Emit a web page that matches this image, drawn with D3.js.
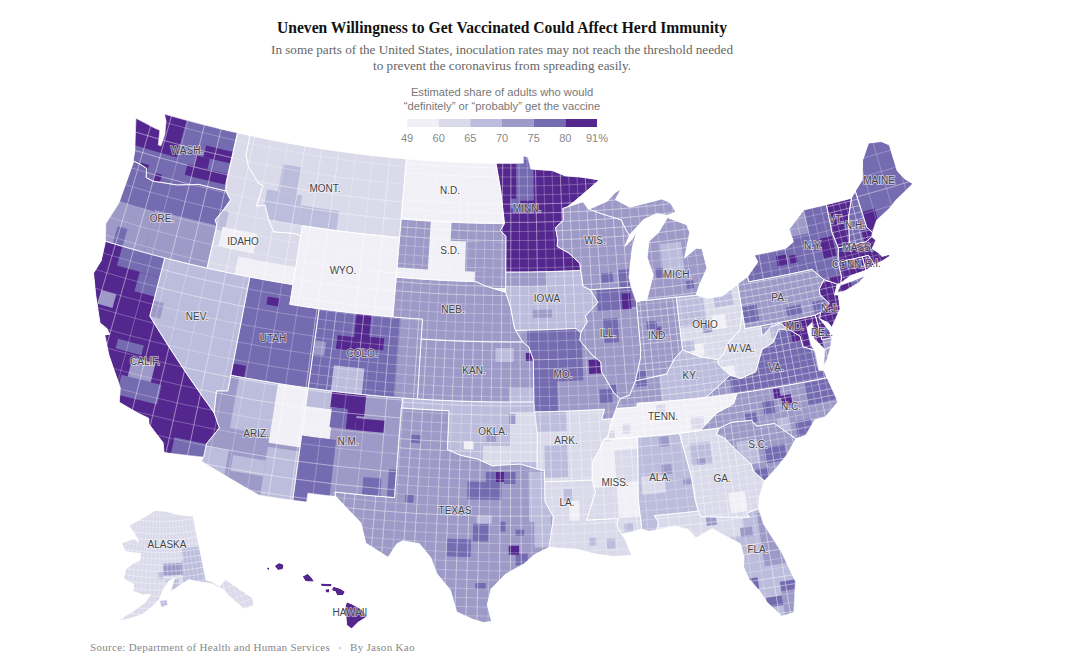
<!DOCTYPE html>
<html><head><meta charset="utf-8"><script src="https://cdn.jsdelivr.net/npm/d3@7"></script>
<style>
body{margin:0;background:#fff}
svg{display:block}
.serif{font-family:"Liberation Serif",serif}
.sans{font-family:"Liberation Sans",sans-serif}
.state-label{font-family:"Liberation Sans",sans-serif;font-size:10px;fill:#444;stroke:#fff;stroke-opacity:.6;stroke-width:1.6px;paint-order:stroke;text-anchor:middle}
</style></head><body><div id="chart"></div>
<script>
// legend
const legendTicks = [49, 60, 65, 70, 75, 80, 91]
const thresholds = [60, 65, 70, 75, 80]
const purples = ['#f2f0f7', '#dadaeb', '#bcbddc', '#9e9ac8', '#756bb1', '#54278f']

// shared borders, lon/lat
const wiMn = [[-92.01,46.71],[-92.29,46.66],[-92.29,46.07],[-92.87,45.7],[-92.75,45.1],[-92.8,44.75],[-92,44.4],[-91.25,43.85],[-91.22,43.5]]
const iaWi = [[-91.22,43.5],[-91.1,42.7],[-90.64,42.51]]
const iaIl = [[-90.64,42.51],[-90.15,41.85],[-91.05,41.2],[-90.95,40.9],[-91.42,40.38]]
const moIl = [[-91.42,40.38],[-91.5,40],[-90.75,39.25],[-90.2,38.85],[-90.2,38.4],[-89.5,37.3],[-89.13,36.98]]
const ohioE = [[-80.52,40.64],[-80.85,39.7],[-81.7,39.2],[-82.2,38.6],[-82.6,38.4]]
const ohioM = [[-82.6,38.4],[-83.7,38.65],[-84.8,39.1]]
const ohioW = [[-84.8,39.1],[-85.4,38.7],[-86,38],[-87,37.9],[-88.05,37.8]]
const ohioL = [[-88.05,37.8],[-88.5,37.1],[-89.13,36.98]]
const columbia = [[-116.92,45.99],[-118.98,46],[-119.3,45.93],[-120.5,45.7],[-121.2,45.65],[-122.2,45.57],[-122.75,45.65],[-122.9,46.1],[-123.4,46.2],[-124,46.27]]
const snake = [[-116.92,45.99],[-116.46,45.6],[-116.85,44.95],[-117.22,44.45],[-117.03,44.23],[-117.03,42]]
const idMt = [[-116.05,49],[-116.05,48],[-115.7,47.45],[-114.7,46.7],[-114.35,46.65],[-114.55,45.55],[-113.95,45.7],[-113.45,44.95],[-113,44.45],[-111.5,44.55],[-111.05,44.47]]
const redRiver = [[-100,34.56],[-99.2,34.3],[-98.1,34.13],[-97.2,33.8],[-96.6,33.85],[-95.5,33.9],[-94.48,33.64]]
const moRiver = [[-96.45,42.49],[-96.1,41.7],[-95.85,40.7],[-95.31,40],[-94.9,39.75],[-94.61,39.1]]
const sabine = [[-94.04,33],[-94.04,32],[-93.55,31.2],[-93.7,30.5],[-93.85,29.7]]
const msLower = [[-91.15,33],[-91,32.4],[-91.6,31],[-89.73,31],[-89.85,30.65],[-89.6,30.18]]
const msUpper = [[-89.4,36.5],[-89.7,36],[-90.07,35.1],[-90.3,35],[-90.6,34.5],[-91.1,33.9],[-91.15,33]]
const tnSouth = [[-90.3,35],[-88.2,35],[-85.6,34.98],[-84.32,35]]
const tnNc = [[-84.32,35],[-83.1,35.77],[-82,36.1],[-81.68,36.59]]
const gaSc = [[-83.1,35],[-83.35,34.7],[-82.9,34.5],[-82,33.5],[-81.5,33],[-81.4,32.6],[-80.85,32.05]]
const ncSc = [[-83.1,35],[-82.3,35.2],[-81.05,35.15],[-80.8,34.82],[-79.67,34.8],[-78.55,33.86]]
const wvVa = [[-77.72,39.32],[-78.35,39.39],[-78.85,38.8],[-79.65,38.55],[-80.3,37.5],[-81.3,37.3],[-81.95,37.53]]
const paEast = [[-75.35,42],[-74.7,41.36],[-75.13,40.98],[-75.2,40.7],[-74.72,40.15],[-75.42,39.8]]
const back = a => a.slice().reverse()

const stateIds = ['WA','OR','CA','NV','ID','MT','WY','UT','AZ','CO','NM','ND','SD','NE','KS','OK','TX','MN','IA','MO','AR','LA','WI','IL','IN','OH','MI','KY','WV','VA','NC','TN','SC','GA','FL','AL','MS','PA','NY','NJ','DE','MD','CT','RI','MA','VT','NH','ME','AK','HI']
const stateValues = [77,77,85,67,62,62,55,77,72,77,72,55,55,72,72,67,72,85,67,72,62,62,72,72,72,62,72,67,62,77,72,55,72,62,67,67,62,72,77,85,85,85,85,85,85,85,77,77,62,85]
const stateRings = [
  [[[-122.76,49],[-117.03,49],[-117.04,46.42],...columbia.slice(),[-124.1,46.8],[-124.73,48.38],[-123.1,48.17],[-122.75,48.14],[-122.55,47.4],[-122.35,47.4],[-122.3,48],[-122.5,48.7]]],
  [[...back(columbia),...snake.slice(1),[-124.21,42],[-124.55,42.84],[-124.1,44],[-123.95,46.2]]],
  [[[-124.21,42],[-120,42],[-120,39],[-114.63,35],[-114.13,34.3],[-114.72,33.4],[-114.72,32.72],[-117.12,32.53],[-117.3,33],[-118.4,33.75],[-118.5,34.03],[-119.2,34.15],[-120.5,34.45],[-120.65,35.15],[-121.9,36.6],[-122.5,37.5],[-122.2,37.6],[-122.5,37.85],[-123,38],[-123.8,39.3],[-124.35,40.3],[-124.1,41]]],
  [[[-120,42],[-114.04,42],[-114.05,36.2],[-114.75,36.1],[-114.63,35],[-120,39]]],
  [[[-117.03,49],...idMt,[-111.05,42],[-114.04,42],[-117.03,42],...back(snake),[-117.04,46.42]]],
  [[[-116.05,49],[-104.05,49],[-104.05,45],[-111.05,45],...back(idMt).slice(0)]],
  [[[-111.05,45],[-104.05,45],[-104.05,41],[-111.05,41]]],
  [[[-114.04,42],[-111.05,42],[-111.05,41],[-109.05,41],[-109.05,37],[-114.05,37]]],
  [[[-114.05,37],[-109.05,37],[-109.05,31.33],[-111.07,31.33],[-114.81,32.5],[-114.72,32.72],[-114.72,33.4],[-114.13,34.3],[-114.63,35],[-114.75,36.1],[-114.05,36.2]]],
  [[[-109.05,41],[-102.05,41],[-102.05,37],[-109.05,37]]],
  [[[-109.05,37],[-103,37],[-103.04,32],[-106.62,32],[-106.53,31.78],[-108.21,31.78],[-108.21,31.33],[-109.05,31.33]]],
  [[[-104.05,49],[-97.23,49],[-96.85,47.6],[-96.56,45.94],[-104.05,45.94]]],
  [[[-104.05,45.94],[-96.56,45.94],[-96.85,45.6],[-96.45,45.3],[-96.45,43.5],[-96.45,42.49],[-97.9,42.8],[-98.5,43],[-104.05,43]]],
  [[[-104.05,43],[-98.5,43],[-97.9,42.8],...moRiver.slice(0,4),[-102.05,40],[-102.05,41],[-104.05,41]]],
  [[[-102.05,40],...moRiver.slice(3),[-94.62,37],[-102.05,37]]],
  [[[-103,37],[-94.62,37],[-94.43,35.4],...back(redRiver),[-100,36.5],[-103,36.5]]],
  [[[-103.04,36.5],[-100,36.5],...redRiver,[-94.04,33.55],...sabine,[-94.7,29.35],[-95.3,28.9],[-96.4,28.35],[-97.2,27.6],[-97.4,26.8],[-97.15,25.96],[-97.6,25.9],[-98.2,26.06],[-99.1,26.4],[-99.5,27.5],[-100.3,28.3],[-100.7,29.1],[-101.4,29.77],[-102.35,29.87],[-102.7,29.7],[-103.15,28.98],[-104.5,29.6],[-104.9,30.6],[-106.53,31.78],[-106.62,32],[-103.04,32]]],
  [[[-97.23,49],[-95.15,49],[-95.15,49.38],[-94.8,49.3],[-94.6,48.7],[-93,48.6],[-92,48.3],[-90.8,48.2],[-89.5,48],[-91.4,47],...wiMn,[-96.45,43.5],[-96.45,45.3],[-96.85,45.6],[-96.56,45.94],[-96.85,47.6]]],
  [[[-96.45,43.5],...iaWi,...iaIl.slice(1),[-91.73,40.61],[-95.77,40.58],[-95.85,40.7],[-96.1,41.7],[-96.45,42.49]]],
  [[[-95.77,40.58],[-91.73,40.61],...moIl,[-89.4,36.5],[-89.7,36],[-90.37,36],[-90.15,36.5],[-94.62,36.5],[-94.62,37],...back(moRiver).slice(0,3)]],
  [[[-94.62,36.5],[-90.15,36.5],[-90.37,36],...msUpper.slice(1),[-94.04,33],[-94.04,33.55],[-94.48,33.64],[-94.43,35.4]]],
  [[...sabine.slice().reverse().slice(-1),[-91.15,33],...msLower.slice(1),[-89.4,29.9],[-89.1,29.1],[-90.2,29.1],[-91.3,29.3],[-92.2,29.55],[-93.85,29.7],[-93.7,30.5],[-93.55,31.2],[-94.04,32]]],
  [[[-92.01,46.71],[-90.8,46.95],[-90.4,46.55],[-89,46.15],[-88.1,45.9],[-87.8,45.35],[-87.6,45.1],[-88,44.55],[-87.4,44.9],[-87.05,45.3],[-87.5,44.4],[-87.9,43],[-87.8,42.49],...back(iaWi),...back(wiMn).slice(1)]],
  [[[-90.64,42.51],[-87.8,42.49],[-87.53,41.7],[-87.53,39.35],[-87.6,38.9],...ohioL,...back(moIl).slice(1),...back(iaIl).slice(1)]],
  [[[-87.53,41.7],[-87.2,41.76],[-84.8,41.76],...ohioW,[-87.6,38.9],[-87.53,39.35]]],
  [[[-84.8,41.76],[-83.45,41.73],[-82.7,41.5],[-81.7,41.5],[-80.52,41.98],...ohioE,...ohioM.slice(1)]],
  [[[-86.82,41.76],[-84.8,41.76],[-83.45,41.73],[-83.1,42.25],[-82.45,43],[-82.6,44],[-83,44.07],[-83.9,43.65],[-83.3,44.9],[-83.45,45.3],[-84.75,45.78],[-85.5,45.1],[-86.25,44.7],[-86.5,43.9],[-86.2,43]],
   [[-90.4,46.55],[-89,46.9],[-88.4,47.3],[-87.9,47.47],[-88.4,46.95],[-87.4,46.5],[-85,46.75],[-84.4,46.5],[-84.1,46],[-84.75,45.9],[-85.5,46.05],[-86.5,45.8],[-87.6,45.1],[-87.8,45.35],[-88.1,45.9],[-89,46.15]]],
  [[...back(ohioL),...back(ohioW).slice(1),...back(ohioM).slice(1),[-82.6,38.15],[-81.95,37.53],[-83.68,36.6],[-88.07,36.68],[-88.07,36.5],[-89.4,36.5]]],
  [[...ohioE,[-82.6,38.15],...back(wvVa),[-78.2,39.68],[-78.8,39.6],[-79.48,39.2],[-79.48,39.72],[-80.52,39.72]]],
  [[[-83.68,36.6],[-81.68,36.59],[-75.9,36.55],[-76,36.95],[-76.3,37],[-76.3,37.6],[-76.3,38],[-77,38.3],[-77.05,38.85],...wvVa],
   [[-75.95,37.15],[-75.65,37.95],[-75.25,38.03],[-75.6,37.5]]],
  [[[-75.9,36.55],[-81.68,36.59],...back(tnNc).slice(1),[-83.1,35],...ncSc.slice(1),[-77.9,33.95],[-77.2,34.6],[-76.5,34.65],[-75.55,35.25]]],
  [[[-89.4,36.5],[-88.07,36.5],[-88.07,36.68],[-83.68,36.6],[-81.68,36.59],...back(tnNc).slice(1),...back(tnSouth).slice(1),...back(msUpper).slice(2,5)]],
  [[...ncSc,[-79.2,33.2],[-80,32.6],...back(gaSc)]],
  [[[-85.6,34.98],[-84.32,35],[-83.1,35],...gaSc.slice(1),[-81.3,31.3],[-81.45,30.72],[-82.2,30.57],[-82.05,30.36],[-84.86,30.7],[-85,31],[-85.1,31.6],[-85.18,32.85]]],
  [[[-85,31],[-87.6,31],[-87.4,30.65],[-87.52,30.28],[-86.5,30.4],[-85.7,30.15],[-85.3,29.68],[-84.3,30.05],[-83.6,29.6],[-82.8,29.1],[-82.7,28.4],[-82.8,27.9],[-82.6,27.3],[-82.1,26.6],[-81.8,26],[-81.1,25.15],[-80.4,25.25],[-80.03,26.8],[-80.55,28.4],[-81.3,29.9],[-81.45,30.72],[-82.2,30.57],[-82.05,30.36],[-84.86,30.7]]],
  [[[-88.2,35],[-85.6,34.98],[-85.18,32.85],[-85.1,31.6],[-85,31],[-87.6,31],[-87.4,30.65],[-87.52,30.28],[-88,30.23],[-88.4,30.37],[-88.47,31.9]]],
  [[[-90.3,35],[-88.2,35],[-88.47,31.9],[-88.4,30.37],[-89.6,30.18],...back(msLower).slice(1),[-91.1,33.9],[-90.6,34.5]]],
  [[[-80.52,41.98],[-79.76,42.27],[-79.76,42],...paEast,[-75.79,39.72],[-80.52,39.72]]],
  [[[-79.76,42.27],[-78.9,42.9],[-79.05,43.27],[-76.8,43.3],[-76.2,43.55],[-76.3,44.2],[-75,45],[-73.35,45],[-73.4,44],[-73.43,43.6],[-73.25,42.75],[-73.5,42.05],[-73.5,41.3],[-73.66,41],[-73.9,41],[-74.7,41.36],[-75.35,42],[-79.76,42]],
   [[-74,40.6],[-73.7,40.9],[-72.6,41],[-71.9,41.07],[-72.5,40.8],[-73.5,40.58]]],
  [[[-73.9,41],[-74.7,41.36],...paEast.slice(2),[-75.55,39.5],[-75.05,39.2],[-74.9,38.95],[-74.1,39.75],[-74,40.45],[-74.25,40.5]]],
  [[[-75.79,39.72],[-75.42,39.8],[-75.55,39.5],[-75.1,38.8],[-75.05,38.45],[-75.7,38.46]]],
  [[[-79.48,39.72],[-75.79,39.72],[-75.7,38.46],[-75.05,38.45],[-75.25,38.03],[-75.65,37.95],[-76.2,38.6],[-76.1,39.4],[-76.5,39.2],[-76.45,38.3],[-76.35,38.05],[-77,38.3],[-77.05,38.85],[-77.72,39.32],[-78.2,39.68],[-78.8,39.6],[-79.48,39.2]]],
  [[[-73.5,42.05],[-71.8,42.02],[-71.8,41.32],[-72.9,41.25],[-73.66,41],[-73.5,41.3]]],
  [[[-71.8,42.02],[-71.38,42.02],[-71.15,41.5],[-71.8,41.32]]],
  [[[-73.5,42.05],[-73.25,42.75],[-72.46,42.73],[-71.3,42.7],[-70.82,42.87],[-70.6,42.65],[-71,42.3],[-70.6,41.95],[-70.5,41.78],[-70,41.78],[-70.25,42.05],[-69.95,41.7],[-70.6,41.55],[-71.15,41.5],[-71.38,42.02],[-71.8,42.02]]],
  [[[-73.35,45],[-71.5,45],[-72.05,44.1],[-72.46,42.73],[-73.25,42.75],[-73.43,43.6],[-73.4,44]]],
  [[[-71.5,45],[-71.1,45.3],[-70.98,43.4],[-70.7,43.07],[-70.82,42.87],[-71.3,42.7],[-72.46,42.73],[-72.05,44.1]]],
  [[[-71.1,45.3],[-70.4,45.75],[-70,46.7],[-69.23,47.46],[-68.3,47.35],[-67.8,47.07],[-67.8,45.7],[-67.45,45.2],[-67,44.85],[-68.5,44.3],[-69.1,44],[-70.2,43.6],[-70.7,43.07],[-70.98,43.4]]],
  [[[-141,69.65],[-141,60.3],[-139.5,59.9],[-137.5,58.9],[-135.5,59.7],[-133.5,58.4],[-130,55.9],[-130.5,54.8],[-133,54.8],[-136,57.5],[-136.5,58.2],[-139.5,59.5],[-142,60],[-146,60.7],[-148.5,60],[-151.5,59.2],[-150,61.1],[-151.9,60.7],[-153.5,59.5],[-154.5,58.2],[-156.5,57],[-159,55.8],[-163,54.8],[-164.8,54.6],[-162,55.9],[-158.5,57.5],[-157,58.8],[-159,58.6],[-162,59],[-162,60],[-165.3,60.6],[-165,62],[-163,63],[-161,63.5],[-161,64.5],[-166.3,64.5],[-168,65.6],[-164,66.5],[-162,66.1],[-163.5,67],[-166.6,68.3],[-163,69.3],[-157,70.9],[-152,70.8],[-147,70.2]],
   [[-154.5,57.9],[-152.5,58],[-152.3,57.3],[-154,56.9]]],
  [[[-159.78,22.07],[-159.55,22.23],[-159.3,22.15],[-159.35,21.92],[-159.6,21.88]],
   [[-160.23,21.98],[-160.08,22],[-160.1,21.85]],
   [[-158.27,21.55],[-158,21.7],[-157.8,21.5],[-157.65,21.3],[-157.95,21.3],[-158.12,21.33]],
   [[-157.3,21.2],[-156.72,21.17],[-156.72,21.05],[-157.25,21.08]],
   [[-157.05,20.9],[-156.85,20.92],[-156.85,20.75],[-157.02,20.75]],
   [[-156.68,20.95],[-156.6,21.03],[-156.25,20.93],[-156,20.78],[-156.1,20.62],[-156.42,20.6],[-156.5,20.8],[-156.68,20.85]],
   [[-155.9,20.25],[-155.6,20.13],[-155.08,19.85],[-154.82,19.52],[-155.3,19.25],[-155.65,18.92],[-155.9,19.1],[-155.95,19.7],[-156.05,19.75]]]
]

// county sizes differ by region (degrees of lon, lat)
const westStates = ['WA','OR','CA','NV','ID','MT','WY','UT','AZ','NM','AK','ME']
const smallCountyStates = ['KY','TN','VA','NC','GA','WV','SC','OH','IN','PA','MD','NJ','CT','MA','NH','VT','RI','DE']
const countyStepWest = [1.3, 0.9]
const countyStepMid = [0.62, 0.46]
const countyStepSmall = [0.45, 0.33]

// county groups: state, share, west, south, east, north
const patches = [
  ['WA',85,-125,47.05,-121,49.2],['WA',77,-121,47.3,-118.5,49.2],['WA',85,-119.1,47.4,-117,48],['WA',85,-120.1,46.3,-117,46.85],['WA',85,-119.6,46.85,-118.6,47.4],['WA',85,-123.4,45.7,-122.8,46.3],['WA',85,-122.2,45.5,-121.7,46],
  ['OR',72,-121.5,42,-117,44.2],['OR',72,-124.6,42,-121.5,44.1],['OR',77,-123.7,42,-123,42.9],
  ['ID',67,-117.3,44,-116.4,45],['ID',55,-115.1,42,-111,42.9],['ID',55,-116.6,43.2,-114.1,44.2],
  ['MT',67,-114,45,-111.4,46.5],['MT',67,-113.2,46.5,-111.8,47.9],['MT',67,-111.4,45,-108.6,46],
  ['SD',72,-104.05,43.5,-101.9,45.94],['SD',72,-100.4,45,-96,46],['SD',72,-99.3,43.5,-96,45],['SD',72,-98.6,42.7,-96,43.5],
  ['MN',77,-95.7,47.1,-94.4,49.4],['MN',77,-96.1,46.7,-95.4,47.2],
  ['IA',72,-96.5,42.8,-93.6,43.5],['IA',72,-94.6,41.2,-93.3,41.6],
  ['KS',67,-97.1,39,-95.9,39.7],['KS',67,-96.2,37,-94.6,37.7],['KS',85,-95.1,39.05,-94.6,39.45],
  ['CO',72,-103.5,37,-102,41],['CO',85,-106.5,39.7,-105.5,41],['CO',85,-107.6,39.1,-106.2,39.8],['CO',85,-106.2,39.3,-104.5,39.9],['CO',67,-107.6,37,-105.6,38.3],['CO',72,-109,38.7,-108.3,39.4],
  ['UT',85,-114.2,37,-113.2,37.6],['UT',85,-112.6,40.8,-111.8,41.2],
  ['NV',72,-120,39,-119.3,39.8],
  ['CA',77,-123,41,-120,42],['CA',77,-121.4,40,-120,41],['CA',77,-120.8,34.8,-118.2,35.8],['CA',72,-120.4,35.8,-118.9,36.8],['CA',77,-121.6,37,-119.9,37.5],['CA',77,-116.7,32.6,-114.5,33.4],['CA',72,-123.5,38.9,-122.5,39.6],
  ['AZ',67,-113.5,34.4,-111,37],['AZ',55,-111,34,-109,37],['AZ',67,-115,32,-113.3,33.3],['AZ',67,-113,32.3,-111,33.1],['AZ',67,-111,31.3,-109,33.8],
  ['NM',67,-109.05,36.1,-107.5,37],['NM',55,-109.05,34.6,-107.3,36.1],['NM',85,-107.5,36.2,-105.3,37],['NM',85,-106.4,35.2,-105.8,36.2],['NM',85,-105.8,35.2,-104,35.8],['NM',85,-106.3,35.9,-105.3,36.3],['NM',77,-107.4,35.2,-106.4,36.2],['NM',77,-109.05,31.3,-106.9,34.6],['NM',77,-105,32,-103.9,32.9],['NM',77,-103.5,32,-103,33.4],
  ['TX',77,-98.7,32.1,-96.65,33],['TX',85,-97,33,-96.5,33.5],['TX',77,-96.5,32.9,-95.8,33.5],['TX',77,-97.6,33,-97,33.5],['TX',77,-95.8,28.8,-95.1,29.4],['TX',85,-96.2,29.35,-95.6,29.8],['TX',77,-98.3,30,-97.4,30.9],['TX',77,-99.8,29.2,-98.4,30.1],['TX',77,-95.8,30.3,-95.3,30.6],['TX',77,-96.7,30.5,-96.4,31],['TX',77,-98.1,27.6,-97.5,27.9],['TX',77,-102.4,31.8,-101.9,32.2],['TX',77,-102.3,34.8,-101.7,35.2],['TX',67,-98.1,30.9,-97.2,31.3],['TX',67,-95,31,-93.9,33.5],['TX',67,-94.7,29.7,-93.7,32],
  ['OK',62,-96.1,34,-94.4,36.5],['OK',62,-97.8,33.8,-96.1,34.8],['OK',55,-99,34.6,-98.4,35],['OK',72,-96.2,35.9,-95.8,36.4],['OK',72,-97.6,35,-97,35.4],
  ['MO',77,-95,38,-91.4,40.7],['MO',77,-95,36.5,-93.1,38],['MO',85,-91,38.3,-90.2,39],['MO',77,-90.4,36.8,-89.6,37.5],
  ['AR',67,-94,33.2,-92.6,34.8],['AR',67,-94.6,35.5,-92.6,36.5],
  ['LA',55,-92.6,31,-92,32],['LA',67,-92.9,32,-92.4,32.6],['LA',67,-90.5,29.5,-90,30],['LA',67,-91.5,29.7,-91.1,30.1],
  ['MS',55,-91.2,32.6,-89.7,34.9],['MS',55,-89.7,31,-88.3,32.8],['MS',67,-89.4,30.3,-88.9,30.7],['MS',55,-89.9,34.4,-88.2,35],
  ['TN',62,-89.1,35.2,-88.6,35.7],['TN',62,-86.9,36,-86.3,36.5],['TN',62,-84.8,35.1,-84,35.7],['TN',62,-90,35,-89.6,35.4],
  ['AL',62,-88.2,32.1,-86.8,33],['AL',72,-86.9,34.4,-86.3,34.9],['AL',72,-86.9,33,-86.3,33.5],['AL',72,-85.7,32.4,-85.1,32.7],
  ['GA',67,-85.1,33.3,-83.8,34.4],['GA',72,-84.7,33.3,-84.2,33.6],['GA',55,-83.1,30.7,-82.1,31.7],
  ['FL',62,-87.6,29.5,-82.5,31],['FL',72,-84.6,30.2,-84,30.7],['FL',72,-82.7,29.4,-82,29.9],['FL',72,-81.6,27.8,-80,30.5],['FL',77,-80.9,26.4,-80,26.9],['FL',77,-81.8,25.7,-80.9,26.2],['FL',77,-82.9,26.7,-82.1,27.3],['FL',72,-80.9,25,-80,26.4],
  ['SC',67,-82.2,33,-80.9,34.2],['SC',77,-80.6,32.9,-79.3,33.7],['SC',77,-81.3,32.1,-80.5,32.7],
  ['NC',85,-79,35.6,-78.35,36.1],['NC',85,-79.4,36,-79,36.5],['NC',77,-77.4,35.4,-75.5,36.5],['NC',77,-81.4,35,-80.7,35.5],['NC',77,-80.2,35.3,-79.5,36],['NC',77,-78.4,33.9,-77.4,34.7],['NC',67,-79.5,34.3,-78.8,35],
  ['VA',72,-83.7,36.5,-82,37.3],['VA',85,-77.6,38.6,-77,39.2],['VA',72,-76.4,37.1,-75,38.1],
  ['WV',55,-82.6,37.3,-81.6,38],['WV',67,-78.9,39,-77.7,39.7],
  ['IL',77,-90.2,41.4,-88.3,42.6],['IL',77,-88.3,41.5,-87.5,42.5],['IL',85,-88.5,41.4,-87.9,42.2],['IL',77,-89.9,39.8,-88.9,41],['IL',77,-90,37,-89.3,37.7],
  ['IN',77,-86.5,39.9,-86,40.4],['IN',85,-86.4,40,-86.1,40.3],['IN',77,-87,40.3,-86.3,40.7],['IN',77,-88,37.8,-87.3,38.3],
  ['KY',72,-89.5,36.5,-86.5,37.9],['KY',77,-88,37.5,-87.3,38.2],
  ['OH',67,-84.8,40.2,-83,41.8],['OH',55,-82.6,39.9,-81.7,40.6],['OH',55,-84.2,38.7,-83.4,39.3],['OH',67,-82.3,41,-81,41.7],['OH',72,-83.3,39.8,-82.7,40.2],['OH',67,-84.8,39,-84,39.5],
  ['MI',77,-84,42.1,-83.5,42.5],['MI',77,-86,42.8,-85.3,43.3],['MI',67,-85.5,43,-84,44.5],
  ['WI',77,-89.8,42.8,-89,43.3],['WI',77,-88.6,42.5,-87.8,43.4],
  ['PA',77,-80.5,40,-79.5,40.8],['PA',77,-77.6,39.9,-76.6,40.4],['PA',77,-75.8,39.8,-74.7,40.4],
  ['NY',85,-74.4,42.4,-73.5,43.4],['NY',85,-77.6,42.5,-76.9,43],['NY',85,-76.7,42.5,-76.2,42.9],['NY',85,-74.3,40.4,-73.6,41.4],['NY',85,-74.2,40.4,-73,41.2],['NY',72,-76.4,43.8,-75,45],
  ['ME',85,-71.1,43,-70.1,44.2],['NH',85,-71.4,42.7,-70.6,43.3],
  ['MD',72,-79.5,39,-78,39.8],['MD',72,-75.7,37.9,-75,38.5],
  ['AK',72,-153.5,61.5,-147.5,63.2],['AK',67,-147.5,60,-141,63.5],['AK',67,-147,63.5,-141,65.2],['AK',67,-152.5,59,-149,60.9],['AK',67,-155,61,-153.5,62],['AK',67,-155,57,-152,58.2]
]

// labels sit where the reference sets them on the page
const labelNames = ['WASH.','MONT.','N.D.','S.D.','WYO.','IDAHO','ORE.','NEV.','CALIF.','UTAH','COLO.','ARIZ.','N.M.','NEB.','KAN.','OKLA.','TEXAS','MINN.','IOWA','MO.','ARK.','LA.','WIS.','ILL.','IND.','MICH.','OHIO','KY.','TENN.','MISS.','ALA.','GA.','FLA.','S.C.','N.C.','VA.','W.VA.','PA.','N.Y.','MAINE','VT.','N.H.','MASS.','CONN.','R.I.','N.J.','DEL.','MD.','ALASKA','HAWAII']
const labelXs = [187,325,450,450,343,243,162,197,145,273,362,256,348,453,474,493,455,527,547,563,566,567,595,608,658,678,705,690,663,615,660,722,758,758,791,776,741,779,813,879,836,855,858,848,873,830,822,795,167,350]
const labelYs = [154,192,194,254,274,245,222,320,365,342,357,437,445,313,374,435,514,212,302,378,444,506,244,337,339,278,328,379,420,486,481,482,553,448,410,371,352,301,249,184,223,229,251,268,267,312,336,330,548,616]

const width = 1080, height = 667
const svg = d3.select('#chart').append('svg').attr('width', width).attr('height', height)
const color = d3.scaleThreshold().domain(thresholds).range(purples)

const conus = d3.geoAlbers().scale(1136).translate([503, 368])
const alaska = d3.geoConicEqualArea().rotate([154, 0]).center([-2, 58.5]).parallels([55, 65]).scale(1136 * 0.35).translate([503 - 0.307 * 1136, 368 + 0.201 * 1136])
const hawaii = d3.geoConicEqualArea().rotate([157, 0]).center([-3, 19.9]).parallels([8, 18]).scale(1136).translate([503 - 0.205 * 1136, 368 + 0.212 * 1136])
const projectionFor = id => id === 'AK' ? alaska : id === 'HI' ? hawaii : conus

// borders run along parallels, so walk each edge in small steps
function ringPath(ring, proj) {
  const pts = []
  ring.forEach((p, i) => {
    const q = ring[(i + 1) % ring.length]
    const n = Math.max(1, Math.ceil(Math.abs(q[0] - p[0])))
    d3.range(n).forEach(k => pts.push(proj([p[0] + (q[0] - p[0]) * k / n, p[1] + (q[1] - p[1]) * k / n])))
  })
  return d3.line()(pts) + 'Z'
}
const rectRing = (w, s, e, n) => [[w, s], [e, s], [e, n], [w, n]]
const stepFor = id => westStates.includes(id) ? countyStepWest : smallCountyStates.includes(id) ? countyStepSmall : countyStepMid

const map = svg.append('g')
stateIds.forEach((id, i) => {
  const proj = projectionFor(id)
  const d = stateRings[i].map(r => ringPath(r, proj)).join('')
  map.append('clipPath').attr('id', 'clip-' + id).append('path').attr('d', d)
  const g = map.append('g').attr('clip-path', `url(#clip-${id})`)
  g.append('path').attr('d', d).attr('fill', color(stateValues[i]))
  g.selectAll('path.patch')
    .data(patches.filter(p => p[0] === id))
    .enter().append('path')
      .attr('class', 'patch')
      .attr('d', p => ringPath(rectRing(p[2], p[3], p[4], p[5]), proj))
      .attr('fill', p => color(p[1]))

  // county lines
  const all = stateRings[i].flat()
  if (id !== 'HI') {
    const grid = d3.geoGraticule()
      .extent([[d3.min(all, p => p[0]), d3.min(all, p => p[1])], [d3.max(all, p => p[0]), d3.max(all, p => p[1])]])
      .step(stepFor(id))
    g.append('path').attr('d', d3.geoPath(proj)(grid())).attr('fill', 'none').attr('stroke', '#fff').attr('stroke-opacity', 0.5).attr('stroke-width', 0.5)
  }
})

// state borders on top
stateIds.forEach((id, i) => {
  if (id === 'HI') return
  map.append('path')
    .attr('d', stateRings[i].map(r => ringPath(r, projectionFor(id))).join(''))
    .attr('fill', 'none').attr('stroke', '#fff').attr('stroke-width', 0.8).attr('stroke-opacity', 0.85)
})

svg.selectAll('text.state-label')
  .data(labelNames)
  .enter().append('text')
    .attr('class', 'state-label')
    .attr('x', (d, i) => labelXs[i])
    .attr('y', (d, i) => labelYs[i])
    .text(d => d)

// header
const headerLine = (text, y, size, fill, weight, length) => svg.append('text').attr('class', 'serif')
  .attr('x', 502).attr('y', y).attr('text-anchor', 'middle')
  .attr('font-size', size).attr('font-weight', weight).attr('fill', fill)
  .attr('textLength', length).attr('lengthAdjust', 'spacingAndGlyphs').text(text)
headerLine('Uneven Willingness to Get Vaccinated Could Affect Herd Immunity', 33, 17, '#121212', 700, 450)
headerLine('In some parts of the United States, inoculation rates may not reach the threshold needed', 54, 13.5, '#666', 400, 462)
headerLine('to prevent the coronavirus from spreading easily.', 70, 13.5, '#666', 400, 258)

// legend
svg.append('text').attr('class', 'sans').attr('x', 502).attr('y', 96).attr('text-anchor', 'middle').attr('font-size', 11.2).attr('fill', '#777').text('Estimated share of adults who would')
svg.append('text').attr('class', 'sans').attr('x', 502).attr('y', 110).attr('text-anchor', 'middle').attr('font-size', 11.2).attr('fill', '#777').text('\u201cdefinitely\u201d or \u201cprobably\u201d get the vaccine')
const legendX = d3.scalePoint().domain(legendTicks).range([407, 597])
svg.selectAll('rect.legend')
  .data(legendTicks.slice(1))
  .enter().append('rect')
    .attr('class', 'legend')
    .attr('x', (d, i) => legendX(legendTicks[i]))
    .attr('y', 119)
    .attr('width', (d, i) => legendX(d) - legendX(legendTicks[i]))
    .attr('height', 8)
    .attr('fill', (d, i) => purples[i])
svg.selectAll('text.tick')
  .data(legendTicks)
  .enter().append('text')
    .attr('class', 'tick sans')
    .attr('x', d => legendX(d))
    .attr('y', 142)
    .attr('text-anchor', 'middle')
    .attr('font-size', 11)
    .attr('fill', '#888')
    .text(d => d === 91 ? '91%' : d)

// footer
svg.append('text').attr('class', 'serif').attr('x', 90).attr('y', 651).attr('font-size', 11).attr('letter-spacing', 0.3).attr('fill', '#888').text('Source: Department of Health and Human Services')
svg.append('circle').attr('cx', 340).attr('cy', 648).attr('r', 1.5).attr('fill', '#ddd')
svg.append('text').attr('class', 'serif').attr('x', 350).attr('y', 651).attr('font-size', 11).attr('letter-spacing', 0.3).attr('fill', '#888').text('By Jason Kao')
</script></body></html>
